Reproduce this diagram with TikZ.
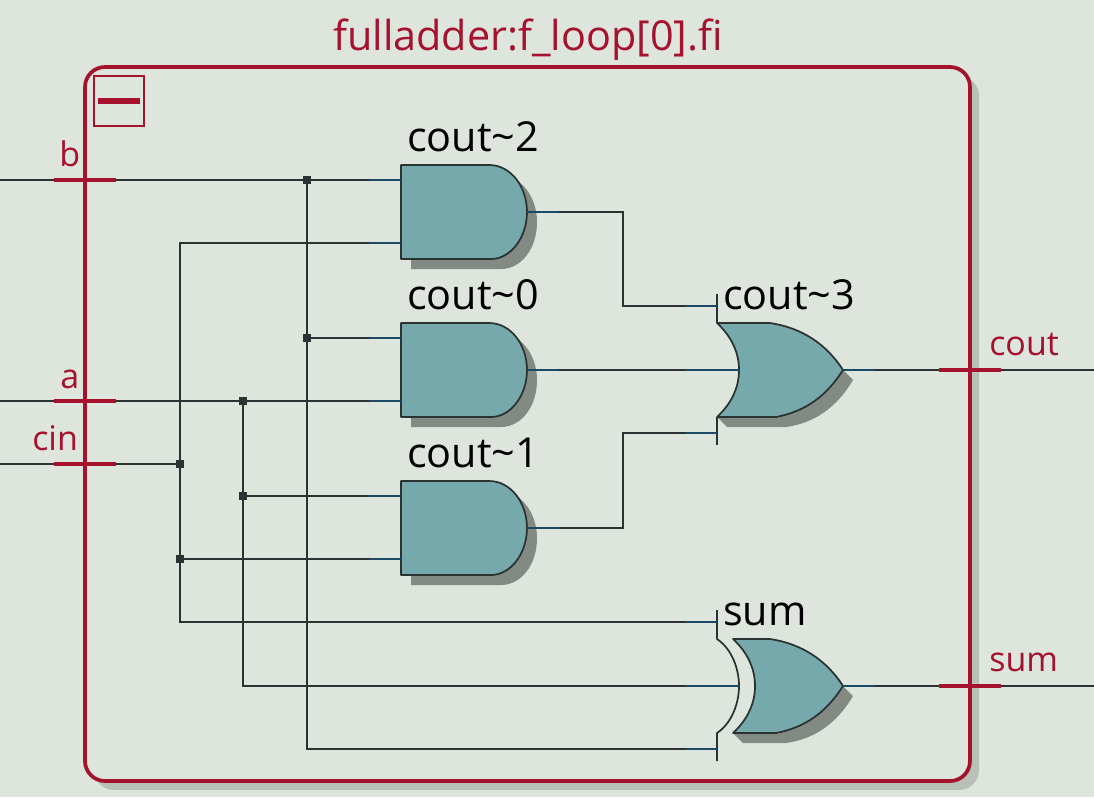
\documentclass[tikz,border=0pt]{standalone}
\usepackage{fontspec}
\usepackage{xcolor}
\setmainfont{Open Sans}
\usetikzlibrary{positioning}
\definecolor{bgcol}{HTML}{DDE5DC}
\definecolor{framecol}{HTML}{A6112E}
\definecolor{framesh}{HTML}{B8C0B8}
\definecolor{gatecol}{HTML}{75A9AC}
\definecolor{gatesh}{HTML}{838A83}
\definecolor{wirecol}{HTML}{2B3332}
\definecolor{stubcol}{HTML}{1A4A66}
\tikzset{
  wire/.style={wirecol, line width=1.15pt},
  stub/.style={stubcol, line width=1.15pt},
  outline/.style={draw=wirecol, line width=1.3pt, line join=round},
  junction/.style={fill=wirecol, rectangle, inner sep=0pt, minimum size=6pt},
  port/.style={framecol, line width=2.8pt},
  gatelabel/.style={anchor=base west, inner sep=0pt, font=\fontsize{31}{31}\selectfont},
  portlabel/.style={anchor=base west, inner sep=0pt, text=framecol, font=\fontsize{25.5}{26}\selectfont},
  andgate/.pic={
    \path[fill=gatesh] (10,10) -- (98,10) .. controls (120,10) and (136,32) .. (136,57) .. controls (136,84) and (120,104) .. (100,104) -- (10,104) -- cycle;
    \path[fill=gatecol, outline] (0,0) -- (88,0) .. controls (110,0) and (126,22) .. (126,47) .. controls (126,72) and (110,94) .. (90,94) -- (0,94) -- cycle;
    \coordinate (-i1) at (-32,15);
    \coordinate (-i2) at (-32,78);
    \coordinate (-o) at (158,47);
    \draw[stub] (-32,15) -- (0,15);
    \draw[stub] (-32,78) -- (0,78);
    \draw[stub] (126,47) -- (158,47);
  },
  orgate/.pic={
    \path[fill=gatesh] (10,104) -- (69,104) .. controls (98,100) and (120,84) .. (136,57) -- (126,47) -- (0,94) -- cycle;
    \path[fill=gatecol, outline] (0,0) -- (53,0) .. controls (86,5) and (110,22) .. (126,47) .. controls (110,72) and (90,88) .. (59,94) -- (0,94) .. controls (15,80) and (22,64) .. (22,47) .. controls (22,30) and (15,14) .. (0,0) -- cycle;
    \draw[outline] (0,-29) -- (0,0);
    \draw[outline] (0,94) -- (0,122);
    \coordinate (-i1) at (-32,-17);
    \coordinate (-i2) at (-32,47);
    \coordinate (-i3) at (-32,110);
    \coordinate (-o) at (158,47);
    \draw[stub] (-32,-17) -- (0,-17);
    \draw[stub] (-32,47) -- (22,47);
    \draw[stub] (-32,110) -- (0,110);
    \draw[stub] (126,47) -- (158,47);
  },
  xorgate/.pic={
    \path[fill=gatesh] (26,104) -- (69,104) .. controls (98,100) and (120,84) .. (136,57) -- (126,47) -- (16,94) -- cycle;
    \path[fill=gatecol, outline] (16,0) -- (53,0) .. controls (86,5) and (110,22) .. (126,47) .. controls (110,72) and (90,88) .. (59,94) -- (16,94) .. controls (31,80) and (38,64) .. (38,47) .. controls (38,30) and (31,14) .. (16,0) -- cycle;
    \draw[outline] (0,-29) -- (0,0) .. controls (15,10) and (22,30) .. (22,47) .. controls (22,64) and (15,84) .. (0,94) -- (0,122);
    \coordinate (-i1) at (-32,-17);
    \coordinate (-i2) at (-32,47);
    \coordinate (-i3) at (-32,110);
    \coordinate (-o) at (158,47);
    \draw[stub] (-32,-17) -- (0,-17);
    \draw[stub] (-32,47) -- (22,47);
    \draw[stub] (-32,110) -- (0,110);
    \draw[stub] (126,47) -- (158,47);
  }
}
\begin{document}
\begin{tikzpicture}[x=0.75pt, y=-0.75pt]
\path[use as bounding box, fill=bgcol] (0,0) rectangle (1094,797);

% frame
\path[fill=framesh, rounded corners=15pt] (94,76) rectangle (979,790);
\path[fill=bgcol, rounded corners=15pt] (85,67) rectangle (970,781);

% gates
\pic (cout2) at (401,165) {andgate};
\pic (cout0) at (401,323) {andgate};
\pic (cout1) at (401,481) {andgate};
\pic (cout3) at (717,323) {orgate};
\pic (sumg) at (717,639) {xorgate};

% free wire ends
\coordinate (bin) at (0,180);
\coordinate (ain) at (0,401);
\coordinate (cinin) at (0,464);
\coordinate (coutend) at (1094,370);
\coordinate (sumend) at (1094,686);

% junctions
\node[junction] (jb1) at (307,180) {};
\node[junction] (jb2) at (307,338) {};
\node[junction] (ja1) at (243,401) {};
\node[junction] (ja2) at (243,496) {};
\node[junction] (jc1) at (180,464) {};
\node[junction] (jc2) at (180,559) {};

% wires
\draw[wire] (bin) -- (cout2-i1);
\draw[wire] (jb1.center) -- (jb2.center);
\draw[wire] (jb2.center) -- (cout0-i1);
\draw[wire] (jb2.center) |- (sumg-i3);
\draw[wire] (ain) -- (cout0-i2);
\draw[wire] (ja1.center) -- (ja2.center);
\draw[wire] (ja2.center) -- (cout1-i1);
\draw[wire] (ja2.center) |- (sumg-i2);
\draw[wire] (cinin) -- (jc1.center);
\draw[wire] (cout2-i2) -| (jc1.center);
\draw[wire] (jc1.center) -- (jc2.center);
\draw[wire] (jc2.center) -- (cout1-i2);
\draw[wire] (jc2.center) |- (sumg-i1);
\draw[wire] (cout2-o) -- ++(64,0) |- (cout3-i1);
\draw[wire] (cout0-o) -- (cout3-i2);
\draw[wire] (cout1-o) -- ++(64,0) |- (cout3-i3);
\draw[wire] (cout3-o) -- (coutend);
\draw[wire] (sumg-o) -- (sumend);

% frame on top of the wires
\draw[framecol, line width=2.8pt, rounded corners=15pt] (85,67) rectangle (970,781);
\node[draw=framecol, line width=1.2pt, rectangle, minimum size=37.5pt, inner sep=0pt] (collapse) at (119,101) {};
\draw[framecol, line width=4.5pt] (98,101) -- (140,101);

% ports
\draw[port] (54,180) -- (116,180);
\draw[port] (54,401) -- (116,401);
\draw[port] (54,464) -- (116,464);
\draw[port] (939,370) -- (1001,370);
\draw[port] (939,686) -- (1001,686);

% labels
\node[portlabel, font=\fontsize{31}{31}\selectfont] (title) at (333,50) {fulladder:f\_loop[0].fi};
\node[portlabel] (blabel) at (59,166) {b};
\node[portlabel] (alabel) at (60,388) {a};
\node[portlabel] (cinlabel) at (32,450) {cin};
\node[portlabel] (coutlabel) at (989,355) {cout};
\node[portlabel] (sumlabel) at (989,671) {sum};
\node[gatelabel] (cout2label) at (407,151) {cout\textasciitilde 2};
\node[gatelabel] (cout0label) at (407,309) {cout\textasciitilde 0};
\node[gatelabel] (cout1label) at (407,467) {cout\textasciitilde 1};
\node[gatelabel] (cout3label) at (723,309) {cout\textasciitilde 3};
\node[gatelabel] (sumlabel2) at (723,625) {sum};
\end{tikzpicture}
\end{document}
